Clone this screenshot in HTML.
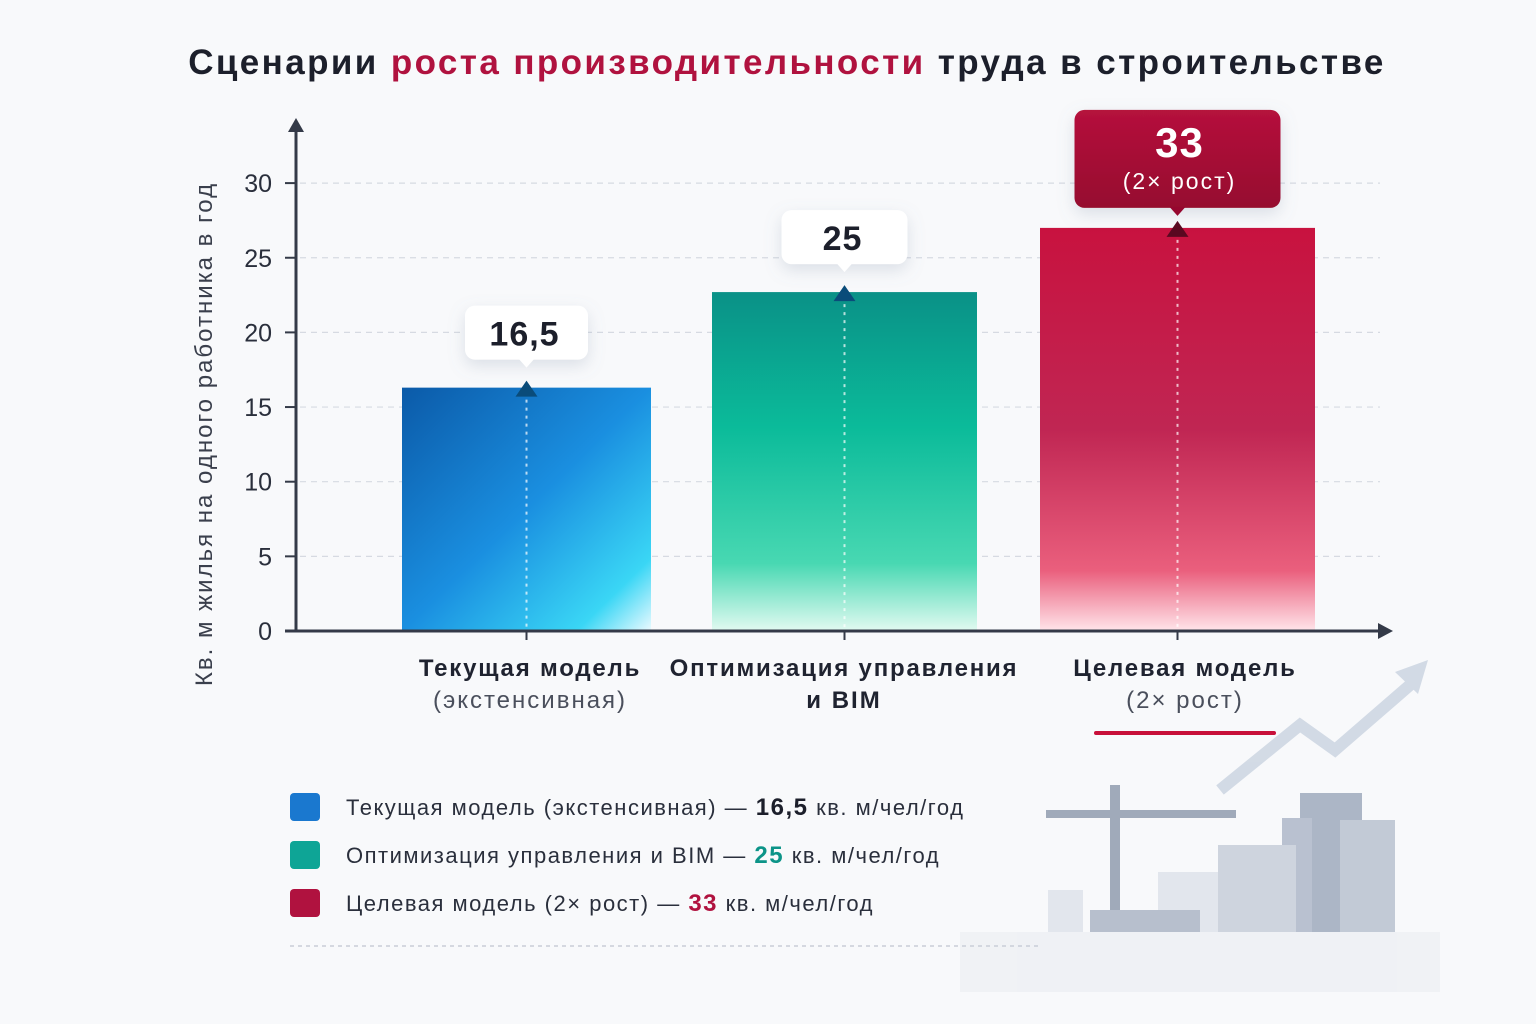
<!DOCTYPE html>
<html><head><meta charset="utf-8">
<style>
html,body{margin:0;padding:0;background:#f8f9fb;}
svg{display:block;font-family:"Liberation Sans","DejaVu Sans",sans-serif;}
</style></head>
<body>
<svg id="chart" width="1536" height="1024" viewBox="0 0 1536 1024" xmlns="http://www.w3.org/2000/svg">
<defs>
<linearGradient id="gBlue" x1="0" y1="0" x2="1" y2="1"><stop offset="0" stop-color="#0b5aa8"/><stop offset="0.5" stop-color="#1a8fe0"/><stop offset="0.85" stop-color="#3ad6f5"/><stop offset="1" stop-color="#eafaff"/></linearGradient>
<linearGradient id="gTeal" x1="0" y1="0" x2="0" y2="1"><stop offset="0" stop-color="#0a9187"/><stop offset="0.4" stop-color="#0bbb9a"/><stop offset="0.8" stop-color="#48d8b2"/><stop offset="1" stop-color="#e2faf1"/></linearGradient>
<linearGradient id="gRed" x1="0" y1="0" x2="0" y2="1"><stop offset="0" stop-color="#c8123f"/><stop offset="0.5" stop-color="#c02653"/><stop offset="0.85" stop-color="#ea5f7d"/><stop offset="1" stop-color="#ffe5ea"/></linearGradient>
<linearGradient id="gCall" x1="0" y1="0" x2="0" y2="1"><stop offset="0" stop-color="#b5123c"/><stop offset="1" stop-color="#96072f"/></linearGradient>
<filter id="sh" x="-30%" y="-30%" width="160%" height="180%"><feDropShadow dx="0" dy="6" stdDeviation="8" flood-color="#8090a8" flood-opacity="0.25"/></filter>
</defs>
<rect width="1536" height="1024" fill="#f8f9fb"/>
<text x="787" y="74" text-anchor="middle" font-size="35" font-weight="bold" fill="#1c1f2b" letter-spacing="2.4">Сценарии <tspan fill="#b0123f">роста производительности</tspan> труда в строительстве</text>
<g id="grid"></g>
<g id="bars"></g>
<line x1="296" y1="631" x2="296" y2="128" stroke="#343a48" stroke-width="3"/>
<polygon points="288,132 304,132 296,118" fill="#343a48"/>
<line x1="285" y1="631" x2="1380" y2="631" stroke="#343a48" stroke-width="3"/>
<polygon points="1378,623 1378,639 1393,631" fill="#343a48"/>
<g id="yticks"></g>
<text transform="translate(212,434) rotate(-90)" text-anchor="middle" font-size="24" fill="#3a3f4c" letter-spacing="2">Кв. м жилья на одного работника в год</text>
<g id="callouts"></g>
<g id="xlabels"></g>
<rect x="1094" y="731" width="182" height="4" rx="2" fill="#c8103a"/>
<g opacity="0.8">
<polyline points="1220,790 1300,725 1335,750 1410,685" fill="none" stroke="#c9d3e0" stroke-width="12"/>
<polygon points="1395,672 1428,660 1418,694" fill="#c9d3e0"/>
<rect x="1300" y="793" width="62" height="140" fill="#9aa6ba"/>
<rect x="1282" y="818" width="30" height="115" fill="#aab4c6"/>
<rect x="1340" y="820" width="55" height="113" fill="#b5bfce"/>
<rect x="1218" y="845" width="78" height="88" fill="#c4ccd8"/>
<rect x="1158" y="872" width="60" height="61" fill="#dde2ea"/>
<rect x="1048" y="890" width="35" height="43" fill="#dde2ea"/>
<line x1="1115" y1="785" x2="1115" y2="912" stroke="#8b97ab" stroke-width="10"/>
<rect x="1046" y="810" width="190" height="8" fill="#8b97ab"/>
<rect x="1090" y="910" width="110" height="25" fill="#a7b1c2"/>
<rect x="960" y="932" width="480" height="60" fill="#edf0f4"/>
</g>
<g id="legend"></g>
<line x1="290" y1="946" x2="1040" y2="946" stroke="#c9ced8" stroke-width="1.5" stroke-dasharray="4 4"/>
<script>
const categories = ["Текущая модель", "Оптимизация управления", "Целевая модель"];
const subLabels = ["(экстенсивная)", "и BIM", "(2× рост)"];
const barValues = [16.3, 22.7, 27.0];
const labelValues = ["16,5", "25", "33"];
const yTicks = [0, 5, 10, 15, 20, 25, 30];
const legendNames = ["Текущая модель (экстенсивная) — ", "Оптимизация управления и BIM — ", "Целевая модель (2× рост) — "];
const NS = "http://www.w3.org/2000/svg";
const y = v => 631 - v * 14.93;
const barX = [402, 712, 1040];
const barW = [249, 265, 275];
const fills = ["url(#gBlue)", "url(#gTeal)", "url(#gRed)"];
const solid = ["#1a78cf", "#0ea596", "#b0123f"];
function mk(tag, attrs, parent, text) {
  const e = document.createElementNS(NS, tag);
  for (const k in attrs) e.setAttribute(k, attrs[k]);
  if (text !== undefined) e.textContent = text;
  parent.appendChild(e);
  return e;
}
const grid = document.getElementById("grid"), yt = document.getElementById("yticks");
yTicks.forEach(t => {
  if (t > 0) {
    const g = mk("line", {x1: 300, x2: 1380, y1: y(t), y2: y(t), stroke: "#d6dae2", "stroke-width": 1.2, "stroke-dasharray": "6 5"}, grid);
    
    
  }
  const tk = mk("line", {x1: 285, x2: 296, y1: y(t), y2: y(t), stroke: "#343a48", "stroke-width": 2}, yt);
  
  
  const tl = mk("text", {x: 272, y: y(t) + 9, "text-anchor": "end", "font-size": 25, fill: "#2a2f3c"}, yt, String(t));
  
  
});
const bars = document.getElementById("bars"), cg = document.getElementById("callouts"), xl = document.getElementById("xlabels");
barValues.forEach((v, i) => {
  const top = y(v), cx = barX[i] + barW[i] / 2;
  const b = mk("rect", {x: barX[i], y: top, width: barW[i], height: 631 - top, fill: fills[i]}, bars);
  
  
  const dl = mk("line", {x1: cx, x2: cx, y1: top + 12, y2: 628, stroke: "#ffffff", "stroke-opacity": 0.7, "stroke-width": 2, "stroke-dasharray": "3 5"}, bars);
  
  
  const tri = mk("polygon", {points: (cx - 11) + "," + (top + 9) + " " + (cx + 11) + "," + (top + 9) + " " + cx + "," + (top - 7), fill: i == 2 ? "#5a0820" : "#0a4c7a"}, bars);
  
  
  let bw, bh, bt;
  if (i < 2) { bw = i == 0 ? 123 : 126; bh = 54; bt = top - 82; } else { bw = 206; bh = 98; bt = top - 118; }
  const box = mk("rect", {x: cx - bw / 2, y: bt, width: bw, height: bh, rx: 10, fill: i == 2 ? "url(#gCall)" : "#ffffff", filter: "url(#sh)"}, cg);
  
  
  mk("polygon", {points: (cx - 8) + "," + (bt + bh - 1) + " " + (cx + 8) + "," + (bt + bh - 1) + " " + cx + "," + (bt + bh + 8), fill: i == 2 ? "#96072f" : "#ffffff"}, cg);
  if (i < 2) {
    const vt = mk("text", {x: cx - 2, y: bt + 40, "text-anchor": "middle", "font-size": 34, "font-weight": "bold", fill: "#1c1f2b", "letter-spacing": 1}, cg, labelValues[i]);
    
    
  } else {
    const vt = mk("text", {x: cx + 2, y: bt + 47, "text-anchor": "middle", "font-size": 42, "font-weight": "bold", fill: "#ffffff", "letter-spacing": 1}, cg, labelValues[i]);
    
    
    const st = mk("text", {x: cx + 2, y: bt + 79, "text-anchor": "middle", "font-size": 23, fill: "#ffffff", "letter-spacing": "2"}, cg, "(2× рост)");
    
    
  }
  const xc = i == 0 ? 530 : (i == 1 ? 844 : 1185);
  mk("line", {x1: cx, x2: cx, y1: 631, y2: 640, stroke: "#343a48", "stroke-width": 2}, xl);
  const c1 = mk("text", {x: xc, y: 676, "text-anchor": "middle", "font-size": 24, "font-weight": "bold", fill: "#1f2330", "letter-spacing": 1.8}, xl, categories[i]);
  
  
  const c2 = mk("text", {x: xc, y: 708, "text-anchor": "middle", "font-size": 24, "font-weight": i == 1 ? "bold" : "normal", fill: i == 1 ? "#1f2330" : "#4a4f5c", "letter-spacing": "2"}, xl, subLabels[i]);
  
  
});
const lg = document.getElementById("legend");
legendNames.forEach((n, i) => {
  const ly = 793 + i * 48;
  const sw = mk("rect", {x: 290, y: ly, width: 30, height: 28, rx: 4, fill: solid[i]}, lg);
  
  
  const t = mk("text", {x: 346, y: ly + 22, "font-size": 22, fill: "#2a2f3c", "letter-spacing": 1.5}, lg);
  
  
  mk("tspan", {}, t, n);
  mk("tspan", {"font-weight": "bold", "font-size": 24, fill: i == 0 ? "#1c1f2b" : (i == 1 ? "#0c9488" : "#b0123f")}, t, labelValues[i]);
  mk("tspan", {}, t, " кв. м/чел/год");
});
</script>
</svg>
</body></html>
